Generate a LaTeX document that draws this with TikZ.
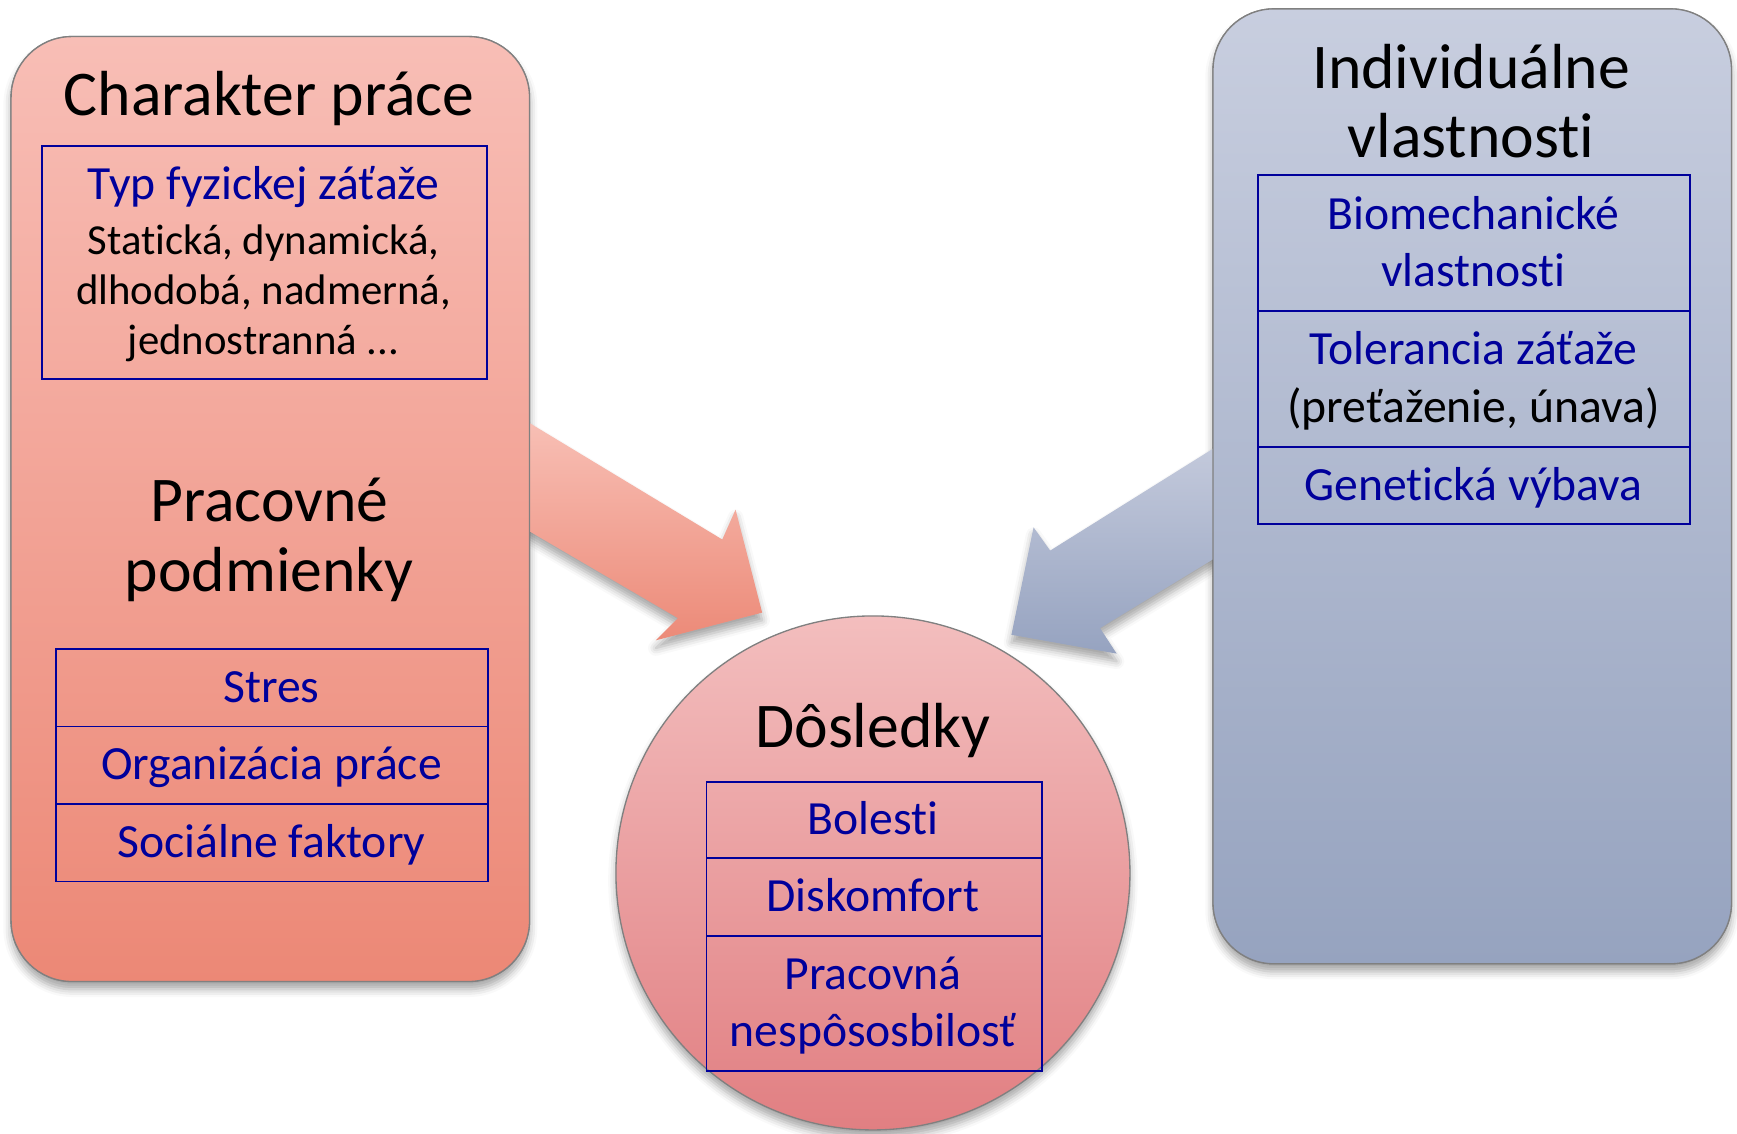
\documentclass[tikz,border=0pt]{standalone}
\usepackage{fontspec}
\setmainfont{Carlito}[Ligatures=NoCommon]
\usetikzlibrary{shadows.blur}
\definecolor{txtblue}{RGB}{0,0,155}
\definecolor{lTop}{RGB}{248,190,182}
\definecolor{lBot}{RGB}{236,136,118}
\definecolor{rTop}{RGB}{200,206,223}
\definecolor{rBot}{RGB}{150,163,191}
\definecolor{cTop}{RGB}{243,190,190}
\definecolor{cBot}{RGB}{225,127,130}
\definecolor{aLTop}{RGB}{248,192,182}
\definecolor{aLBot}{RGB}{236,138,120}
\definecolor{aRTop}{RGB}{196,202,220}
\definecolor{aRBot}{RGB}{150,163,192}
\tikzset{
  softshadow/.style={blur shadow={shadow xshift=0pt, shadow yshift=-7pt, shadow blur radius=7pt, shadow opacity=35}},
  panel/.style={rounded corners=55pt, draw=black!50, line width=1.2pt},
  cell/.style={draw=txtblue, line width=1.6pt, inner sep=0pt, anchor=north west},
  title/.style={inner sep=0pt, anchor=base, font=\fontsize{57.5}{62}\selectfont},
  btxt/.style={inner sep=0pt, anchor=base, text=txtblue, font=\fontsize{43}{50}\selectfont},
  ktxt/.style={inner sep=0pt, anchor=base, text=black, font=\fontsize{43}{50}\selectfont},
  stxt/.style={inner sep=0pt, anchor=base, text=black, font=\fontsize{38.6}{45}\selectfont},
}
\begin{document}
\begin{tikzpicture}[x=1pt,y=-1pt]
\useasboundingbox (0,0) rectangle (1568,1023);
% panel shadows
\path[panel, softshadow, top color=lTop, bottom color=lBot] (10,33) rectangle (478,886);
\path[panel, softshadow, top color=rTop, bottom color=rBot] (1095,8) rectangle (1563,870);
% arrows
\path[softshadow, top color=aLTop, bottom color=aLBot]
  (470,377) -- (652,487) -- (664,460) -- (688,553) -- (592,578) -- (612,558) -- (470,475) -- cycle;
\path[softshadow, top color=aRTop, bottom color=aRBot]
  (1103,400) -- (948,497) -- (933,476) -- (913,573) -- (1008,590) -- (993,567) -- (1103,500) -- cycle;
% left panel
\path[panel, top color=lTop, bottom color=lBot] (10,33) rectangle (478,886);
\node[title] (tCh) at (243,104) {Charakter práce};
\node[cell, minimum width=402pt, minimum height=210pt] (typ) at (37,131) {};
\node[btxt] (typT) at (238,180) {Typ fyzickej záťaže};
\node[stxt] (typ1) at (238,230) {Statická, dynamická,};
\node[stxt] (typ2) at (238,275) {dlhodobá, nadmerná,};
\node[stxt] (typ3) at (238,320) {jednostranná ...};
\node[title] (tPr1) at (243,471) {Pracovné};
\node[title] (tPr2) at (243,534) {podmienky};
\node[cell, minimum width=390pt, minimum height=70pt] (s1) at (50,585) {};
\node[cell, minimum width=390pt, minimum height=70pt] (s2) at (50,655) {};
\node[cell, minimum width=390pt, minimum height=70pt] (s3) at (50,725) {};
\node[btxt] at (245,634) {Stres};
\node[btxt] at (245,704) {Organizácia práce};
\node[btxt] at (245,774) {Sociálne faktory};
% right panel
\path[panel, top color=rTop, bottom color=rBot] (1095,8) rectangle (1563,870);
\node[title] (tInd1) at (1328,80) {Individuálne};
\node[title] (tInd2) at (1328,142) {vlastnosti};
\node[cell, minimum width=390pt, minimum height=123pt] (r1) at (1135,157) {};
\node[cell, minimum width=390pt, minimum height=123pt] (r2) at (1135,280) {};
\node[cell, minimum width=390pt, minimum height=69pt] (r3) at (1135,403) {};
\node[btxt] at (1330,207) {Biomechanické};
\node[btxt] at (1330,259) {vlastnosti};
\node[btxt] at (1330,329) {Tolerancia záťaže};
\node[ktxt] at (1330,381) {(preťaženie, únava)};
\node[btxt] at (1330,452) {Genetická výbava};
% circle
\node[circle, minimum size=464pt, inner sep=0pt, draw=black!50, line width=1.2pt, top color=cTop, bottom color=cBot, softshadow] (circ) at (788,788) {};
\node[title] (tDo) at (788,675) {Dôsledky};
\node[cell, minimum width=303pt, minimum height=69pt] (c1) at (637,705) {};
\node[cell, minimum width=303pt, minimum height=70pt] (c2) at (637,774) {};
\node[cell, minimum width=303pt, minimum height=122pt] (c3) at (637,844) {};
\node[btxt] at (788,753) {Bolesti};
\node[btxt] at (788,823) {Diskomfort};
\node[btxt] at (788,893) {Pracovná};
\node[btxt] at (788,945) {nespôsosbilosť};
\end{tikzpicture}
\end{document}
